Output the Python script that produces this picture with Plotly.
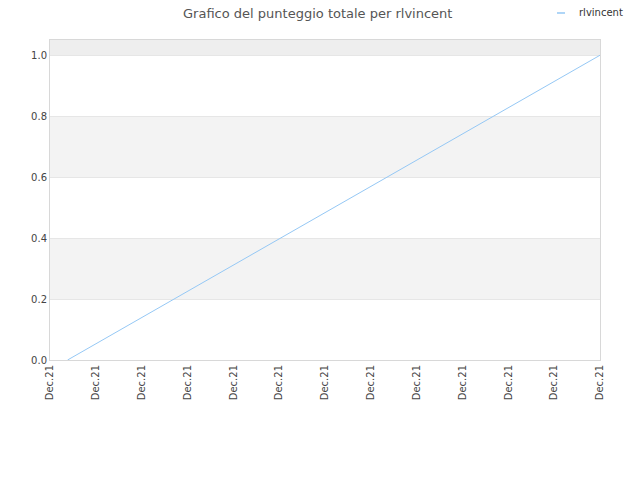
import plotly.graph_objects as go

times = ["2021-12-21 00:23", "2021-12-21 12:00"]
scores = [0.0, 1.0]
series_name = "rlvincent"
title = "Grafico del punteggio totale per rlvincent"
bands = [(0.2, 0.4, "#f3f3f3"), (0.6, 0.8, "#f3f3f3"), (1.0, 1.05, "#eeeeee")]
line_color = "#95c8f5"

fig = go.Figure()
fig.add_trace(go.Scatter(x=times, y=scores, mode="lines", name=series_name,
                         line=dict(color=line_color, width=1), showlegend=False))
for y0, y1, c in bands:
    fig.add_shape(type="rect", xref="paper", yref="y", x0=0, x1=1, y0=y0, y1=y1,
                  fillcolor=c, line=dict(width=0), layer="below")

# legend drawn manually (short sample line like the reference)
fig.add_shape(type="line", xref="paper", yref="paper", x0=0.9218, x1=0.9364,
              y0=1.0844, y1=1.0844, line=dict(color=line_color, width=1.5))
fig.add_annotation(text=series_name, xref="paper", yref="paper", x=0.958, y=1.0844,
                   xanchor="left", yanchor="middle", showarrow=False,
                   font=dict(size=10, color="#333"))

fig.update_layout(
    width=640, height=480,
    margin=dict(l=42, r=48, t=32, b=128, autoexpand=False),
    paper_bgcolor="white", plot_bgcolor="white",
    font=dict(family="DejaVu Sans", size=10, color="#444"),
    title=dict(text=title, x=0.484, xanchor="center", y=0.988, yanchor="middle",
               font=dict(size=13, color="#555")),
    showlegend=False,
    xaxis=dict(type="date", range=["2021-12-21 00:00", "2021-12-21 12:00"],
               dtick=3600000, tick0="2021-12-21 00:00", tickformat="%b.%d",
               tickangle=-90, showgrid=False, showline=True, linecolor="#d8d8d8",
               mirror=True, ticks="", tickfont=dict(size=10, color="#444")),
    yaxis=dict(range=[0, 1.05], dtick=0.2, tickformat=".1f", showgrid=True,
               gridcolor="#e6e6e6", zeroline=False, showline=True, linecolor="#d8d8d8",
               mirror=True, ticks="", tickfont=dict(size=10, color="#444")),
)
fig.write_html("out.html")
